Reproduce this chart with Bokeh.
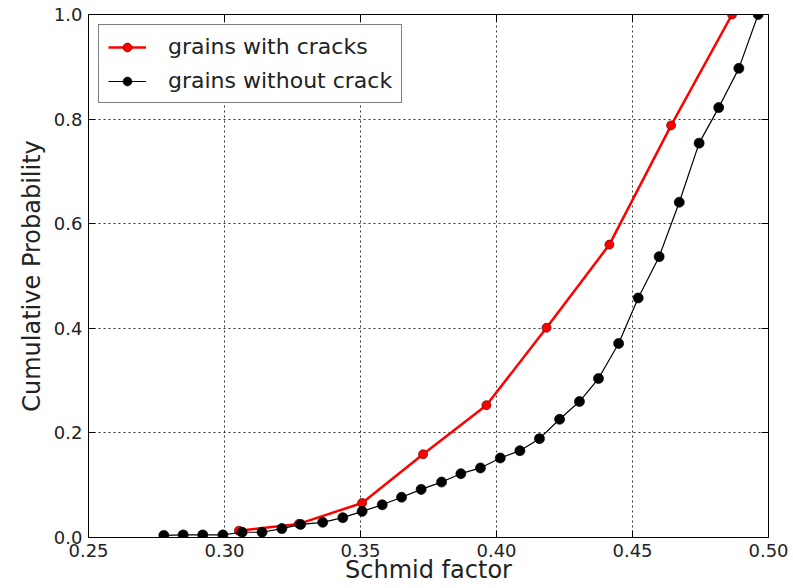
from bokeh.plotting import figure
from bokeh.models import (LinearAxis, Range1d, FixedTicker, Legend, LegendItem,
                          NumeralTickFormatter)
from bokeh.embed import file_html
from bokeh.resources import INLINE

# ---- data ----
cracked_sf = [0.3053, 0.3273, 0.3506, 0.3730, 0.3963, 0.4184, 0.4415, 0.4642, 0.4866]
cracked_cp = [0.013, 0.026, 0.066, 0.159, 0.253, 0.401, 0.560, 0.788, 1.000]

uncracked_sf = [0.2777, 0.2848, 0.2920, 0.2994, 0.3065, 0.3138, 0.3211, 0.3280,
                0.3361, 0.3435, 0.3506, 0.3580, 0.3651, 0.3723, 0.3798, 0.3869,
                0.3941, 0.4014, 0.4086, 0.4158, 0.4232, 0.4305, 0.4375, 0.4449,
                0.4521, 0.4598, 0.4672, 0.4745, 0.4817, 0.4891, 0.4962]
uncracked_cp = [0.004, 0.005, 0.005, 0.005, 0.010, 0.010, 0.017, 0.025,
                0.029, 0.038, 0.050, 0.0625, 0.077, 0.092, 0.106, 0.122,
                0.133, 0.152, 0.166, 0.189, 0.226, 0.260, 0.304, 0.371,
                0.458, 0.537, 0.641, 0.754, 0.822, 0.897, 1.000]

x_ticks = [0.25, 0.30, 0.35, 0.40, 0.45, 0.50]
y_ticks = [0.0, 0.2, 0.4, 0.6, 0.8, 1.0]

FONT = "DejaVu Sans"
TXT = "#222222"

p = figure(width=793, height=588, output_backend="svg", toolbar_location=None,
           x_range=Range1d(0.25, 0.50), y_range=Range1d(0.0, 1.0),
           min_border_left=88, min_border_top=14, min_border_right=25,
           min_border_bottom=51)

p.background_fill_color = "white"
p.border_fill_color = "white"
p.outline_line_color = "black"
p.outline_line_width = 1

# bottom / left axes
xa = p.xaxis[0]
ya = p.yaxis[0]
xa.ticker = FixedTicker(ticks=x_ticks)
ya.ticker = FixedTicker(ticks=y_ticks)
xa.formatter = NumeralTickFormatter(format="0.00")
ya.formatter = NumeralTickFormatter(format="0.0")
for ax in (xa, ya):
    ax.major_tick_in = 7
    ax.major_tick_out = 0
    ax.minor_tick_in = 0
    ax.minor_tick_out = 0
    ax.axis_line_color = "black"
    ax.major_tick_line_color = "black"
    ax.major_label_text_font = FONT
    ax.major_label_text_font_size = "18px"
    ax.major_label_text_color = TXT
    ax.axis_label_text_font = FONT
    ax.axis_label_text_font_size = "24px"
    ax.axis_label_text_font_style = "normal"
    ax.axis_label_text_color = TXT
xa.major_label_standoff = 6
ya.major_label_standoff = 6

ya.axis_label = "Cumulative Probability"
ya.axis_label_standoff = 5
xa.axis_label = "Schmid factor"
xa.axis_label_standoff = -4

# top / right axes: ticks only
top = LinearAxis(ticker=FixedTicker(ticks=x_ticks),
                 major_label_overrides={t: "" for t in x_ticks})
right = LinearAxis(ticker=FixedTicker(ticks=y_ticks),
                   major_label_overrides={t: "" for t in y_ticks})
for ax in (top, right):
    ax.major_tick_in = 7
    ax.major_tick_out = 0
    ax.minor_tick_in = 0
    ax.minor_tick_out = 0
    ax.axis_line_color = "black"
    ax.major_tick_line_color = "black"
    ax.major_label_standoff = 0
p.add_layout(top, "above")
p.add_layout(right, "right")

# grid
for g in (p.xgrid[0], p.ygrid[0]):
    g.grid_line_color = "black"
    g.grid_line_dash = "2 3"
    g.grid_line_width = 1
    g.grid_line_alpha = 0.8
p.xgrid[0].ticker = FixedTicker(ticks=x_ticks)
p.ygrid[0].ticker = FixedTicker(ticks=y_ticks)

# series
r_line = p.line(cracked_sf, cracked_cp, line_color="#ff0000", line_width=2.5)
r_pts = p.scatter(cracked_sf, cracked_cp, marker="circle", size=9,
                  fill_color="#ff0000", line_color="#550000", line_width=0.7)
b_line = p.line(uncracked_sf, uncracked_cp, line_color="black", line_width=1.2)
b_pts = p.scatter(uncracked_sf, uncracked_cp, marker="circle", size=10,
                  fill_color="black", line_color="black", line_width=0.7)

legend = Legend(items=[
    LegendItem(label="grains with cracks", renderers=[r_line, r_pts]),
    LegendItem(label="grains without crack", renderers=[b_line, b_pts]),
], location="top_left")
legend.margin = 10
legend.padding = 9
legend.spacing = 9
legend.glyph_width = 38
legend.glyph_height = 22
legend.label_height = 22
legend.label_standoff = 22
legend.label_text_font = FONT
legend.label_text_font_size = "22px"
legend.label_text_color = TXT
legend.border_line_color = "black"
legend.border_line_width = 1.2
legend.background_fill_color = "white"
legend.background_fill_alpha = 1.0
p.add_layout(legend, "center")

open("out.html", "w").write(file_html(p, INLINE))
